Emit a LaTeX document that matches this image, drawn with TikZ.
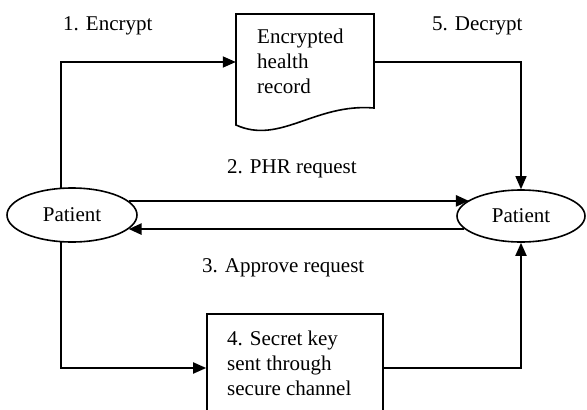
\documentclass[tikz,border=0pt]{standalone}
\usepackage{fontspec}
\setmainfont{Liberation Serif}
\usetikzlibrary{arrows.meta,shapes.geometric}
\begin{document}
\begin{tikzpicture}[x=1pt,y=-1pt,
  every node/.style={font=\fontsize{21}{25}\selectfont},
  actor/.style={ellipse, draw, line width=1.6pt, fill=white,
    minimum height=54pt, inner sep=0pt},
  keybox/.style={rectangle, draw, line width=1.6pt, fill=white,
    minimum width=176pt, minimum height=108pt},
  txt/.style={inner sep=0pt, align=left},
  link/.style={line width=1.8pt},
  flow/.style={link, -{Triangle[length=13pt,width=11pt]}},
  wide/.style={line width=2.6pt}
]
\useasboundingbox (0,0) rectangle (587,410);
\clip (0,0) rectangle (587,410);

% the two patients
\node[actor, minimum width=130pt] (lp) at (72,215) {Patient};
\node[actor, minimum width=128pt, minimum height=52pt] (rp) at (521,216) {Patient};

% encrypted record drawn as a document shape
\draw[line width=1.6pt, fill=white] (236,14) -- (374,14) -- (374,108)
  .. controls (315,103) and (280,145) .. (236,125) -- cycle;
\node[minimum width=138pt, minimum height=96pt, inner sep=0pt] (doc) at (305,62) {};
\node[txt, anchor=north west] (doctext) at (257,29) {Encrypted\\health\\record};

% secret key box
\node[keybox] (key) at (295,368) {};
\node[txt, anchor=north west] (keytext) at (227,331) {4. Secret key\\sent through\\secure channel};

% step labels
\node[txt, anchor=base west] (l1) at (63,30) {1. Encrypt};
\node[txt, anchor=base west] (l5) at (432,30) {5. Decrypt};
\node[txt, anchor=base west] (l2) at (227,173) {2. PHR request};
\node[txt, anchor=base west] (l3) at (202,272) {3. Approve request};

% connectors
\draw[flow] (lp.112) |- (doc.west);
\draw[flow, line width=1.3pt] (doc.east) -| (rp.north);
\draw[flow, wide] (lp.14) -- (rp.163 |- lp.14);
\draw[flow, wide] (rp.193) -- (lp.-14 |- rp.193);
\draw[flow] (lp.248) |- (key.west);
\draw[flow] (key.east) -| (rp.south);
\end{tikzpicture}
\end{document}
